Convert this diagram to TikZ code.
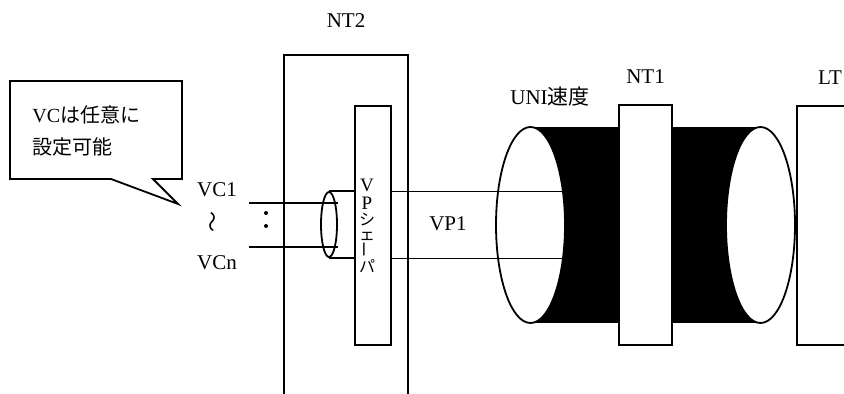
\documentclass[tikz,border=0pt]{standalone}
\usepackage{fontspec}
\setmainfont{Liberation Serif}
\newfontfamily\jpfont{Noto Sans CJK JP}
\usepackage{graphicx}
\usetikzlibrary{positioning,shapes.geometric}

\begin{document}
\begin{tikzpicture}[
    x=0.5pt, y=-0.5pt,
    unit/.style={
        rectangle,
        draw=black,
        line width=1pt,
        inner sep=0pt
    },
    tube/.style={
        ellipse,
        draw=black,
        line width=0.9pt,
        inner sep=0pt
    },
    wire/.style={line width=0.75pt},
    tag/.style={inner sep=1pt, font=\fontsize{10.5}{13}\selectfont}
]
    \useasboundingbox (0,0) rectangle (844,394);

    % Cable body
    \fill (530,127) rectangle (619,323);
    \fill (672,127) rectangle (760,323);
    \node[tube, fill=white, minimum width=34.5pt, minimum height=98pt] (uniL) at (530.5,225) {};
    \node[tube, fill=white, minimum width=34.5pt, minimum height=98pt] (uniR) at (760.5,225) {};

    % Units
    \node[unit, minimum width=62pt, minimum height=190pt] (nt2) at (346,245) {};
    \node[unit, fill=white, minimum width=18pt, minimum height=119.5pt] (vp) at (373,225.5) {};
    \node[unit, fill=white, minimum width=26.5pt, minimum height=120pt] (nt1) at (645.5,225) {};
    \node[unit, minimum width=60pt, minimum height=119.5pt] (lt) at (857,225.5) {};

    % VC bundle
    \node[tube, minimum width=8pt, minimum height=32.5pt] (vcE) at (329,224.5) {};
    \coordinate (vc1) at (249,203);
    \coordinate (vcn) at (249,247);
    \draw[wire] (vc1) -- (vc1 -| vcE.east);
    \draw[wire] (vcn) -- (vcn -| vcE.east);
    \draw[wire] (vcE.north) -- (vcE.north -| vp.west);
    \draw[wire] (vcE.south) -- (vcE.south -| vp.west);
    \fill (266,213) circle (1pt);
    \fill (266,226) circle (1pt);

    % VP path
    \draw[wire] (vp.east |- uniL.45) -- (uniL.45);
    \draw[wire] (vp.east |- uniL.-45) -- (uniL.-45);

    % Callout
    \draw[line width=0.9pt, fill=white] (10,81) -- (182,81) -- (182,179) -- (153,179)
        -- (178,204) -- (111,179) -- (10,179) -- cycle;
    \node[tag, anchor=west, font=\fontsize{10}{12}\selectfont] (note1) at (30,115) {VC{\jpfont は任意に}};
    \node[tag, anchor=west, font=\fontsize{10}{12}\selectfont] (note2) at (30,147) {{\jpfont 設定可能}};

    % Labels
    \node[tag, above=12pt of nt2] (nt2lbl) {NT2};
    \node[tag, above=9pt of nt1] (nt1lbl) {NT1};
    \node[tag] (ltlbl) at (830,78) {LT};
    \node[tag] (unilbl) at (550,97) {UNI{\jpfont 速度}};
    \node[tag] (vp1lbl) at (448,224) {VP1};
    \node[tag] (vc1lbl) at (217,190) {VC1};
    \node[tag] (waves) at (215,222) {\rotatebox{90}{\jpfont ～}};
    \node[tag] (vcnlbl) at (217,263) {VCn};
    \node[inner sep=0pt, align=center,
          font={\fontsize{9.5}{7.7}\selectfont\lineskiplimit=0pt\lineskip=0.3pt}] (vptext) at (367,226)
        {V\\[1.5pt]P\\{\jpfont\fontsize{8}{8}\selectfont シ}\\{\jpfont\fontsize{8}{8}\selectfont ェ}\\
         \rotatebox{90}{\jpfont\fontsize{8}{8}\selectfont ー}\\{\jpfont\fontsize{8}{8}\selectfont パ}};
\end{tikzpicture}
\end{document}
